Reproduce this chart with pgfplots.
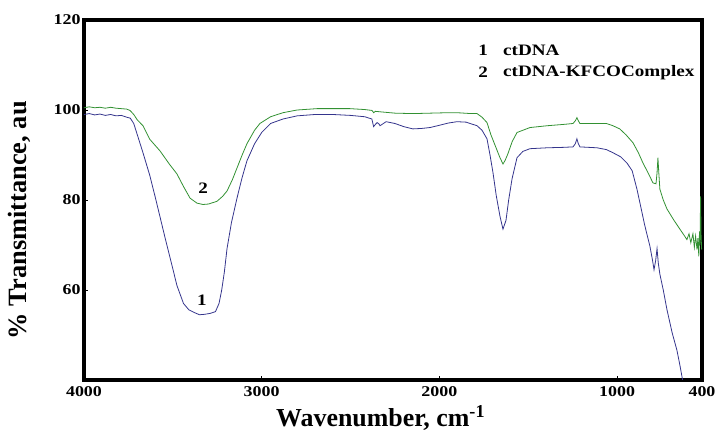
\documentclass[border=0pt]{standalone}
\usepackage{fontspec}
\setmainfont[FakeStretch=1.2]{Liberation Serif}
\newfontfamily\plainserif{Liberation Serif}
\usepackage{pgfplots}
\pgfplotsset{compat=1.18}
\usetikzlibrary{calc}
\definecolor{cblue}{RGB}{52,52,140}
\definecolor{cgreen}{RGB}{50,145,50}
\begin{document}
\begin{tikzpicture}
\begin{axis}[name=ax, scale only axis, width=618bp, height=360bp,
  x dir=reverse, xmin=522, xmax=4000, ymin=40, ymax=120,
  xtick={4000,3000,2000,1000,522}, xticklabels={4000,3000,2000,1000,400},
  ytick={60,80,100,120},
  tick pos=left, tick align=inside,
  major tick length=4bp,
  major tick style={black, line width=0.6pt},
  axis line style={line width=4bp},
  /pgf/number format/assume math mode=true,
  ticklabel style={font=\bfseries\fontsize{15}{15}\selectfont},
  xticklabel style={yshift=-3bp},
  xlabel={\plainserif Wavenumber, cm\textsuperscript{-1}},
  ylabel={\plainserif\% Transmittance, au},
  xlabel style={font=\bfseries\fontsize{26}{26}\selectfont, at={(axis description cs:0.48,-0.106)}, anchor=center},
  ylabel style={font=\bfseries\fontsize{26.5}{26.5}\selectfont, at={(axis description cs:-0.104,0.444)}, anchor=center},
  clip=true,
]
\addplot[cblue, line width=0.8pt] coordinates {
(4000,99.0)(3970,99.2)(3940,98.9)(3910,99.1)(3880,98.8)(3850,99.0)(3820,98.7)(3790,98.8)(3760,98.4)(3740,98.2)
(3720,97.0)(3700,94.5)(3668,90.5)(3630,85.5)(3600,80.8)(3570,75.9)(3540,71.0)(3505,65.5)(3477,61.0)(3440,57.0)
(3410,55.6)(3380,55.0)(3350,54.5)(3320,54.6)(3290,54.8)(3260,55.2)(3240,57.0)(3225,60.0)(3210,64.0)(3195,69.2)
(3170,75.0)(3139,80.4)(3110,85.0)(3083,88.7)(3040,92.5)(3000,95.0)(2950,97.0)(2880,98.0)(2800,98.7)(2700,99.0)
(2600,99.0)(2500,98.8)(2420,98.5)(2380,98.0)(2370,96.3)(2360,96.8)(2350,97.2)(2340,96.9)(2334,96.5)(2300,97.4)
(2250,97.0)(2200,96.3)(2149,95.8)(2100,95.9)(2053,96.1)(2000,96.6)(1950,97.1)(1901,97.4)(1850,97.3)(1788,96.5)
(1760,95.5)(1732,93.6)(1715,90.0)(1698,86.0)(1680,81.0)(1659,76.4)(1642,73.5)(1625,75.5)(1610,80.0)(1591,84.7)
(1563,89.4)(1530,90.8)(1490,91.4)(1394,91.6)(1300,91.7)(1248,91.8)(1235,92.5)(1226,93.6)(1218,92.5)(1209,91.8)
(1113,91.6)(1060,91.2)(1023,90.5)(980,89.6)(944,88.2)(915,86.5)(888,82.4)(871,79.3)(845,74.5)(815,69.7)
(800,66.5)(792,64.5)(783,66.5)(775,69.2)(768,66.0)(759,63.5)(740,60.0)(719,55.6)(690,50.5)(663,46.6)
(645,43.0)(629,39.5)(620,38.0)
};
\addplot[cgreen, line width=0.8pt] coordinates {
(4000,100.5)(3970,100.7)(3940,100.5)(3910,100.6)(3880,100.4)(3850,100.6)(3820,100.4)(3790,100.3)(3760,100.2)(3741,99.9)
(3720,99.0)(3700,97.8)(3668,96.5)(3630,93.5)(3572,90.9)(3520,88.0)(3477,85.8)(3440,83.0)(3403,80.4)(3364,79.3)
(3330,79.0)(3300,79.1)(3252,79.7)(3220,80.8)(3195,82.0)(3165,84.5)(3139,87.1)(3110,90.0)(3083,92.5)(3040,95.5)
(3010,97.0)(2950,98.5)(2880,99.4)(2800,100.0)(2689,100.3)(2600,100.3)(2503,100.3)(2420,100.1)(2379,99.9)(2370,99.4)
(2360,99.7)(2334,99.6)(2250,99.3)(2149,99.2)(2050,99.3)(1950,99.4)(1901,99.4)(1820,99.2)(1788,99.2)(1760,98.4)
(1732,97.2)(1710,94.5)(1685,92.0)(1660,89.5)(1642,88.0)(1630,88.8)(1615,90.2)(1590,93.0)(1563,95.0)(1490,96.1)
(1394,96.5)(1300,96.8)(1248,97.0)(1235,97.6)(1226,98.3)(1218,97.6)(1209,97.0)(1150,97.0)(1060,97.0)(1023,96.5)
(985,95.8)(950,94.5)(910,92.7)(880,90.5)(854,88.2)(825,86.0)(798,83.8)(781,83.6)(775,86.0)(770,89.4)
(765,86.0)(759,82.4)(740,80.0)(719,78.0)(680,75.5)(646,73.5)(620,72.0)(607,71.2)(595,72.5)(585,70.5)
(573,72.5)(565,69.5)(558,72.0)(550,69.0)(545,71.5)(540,67.5)(536,73.0)(533,70.0)(530,80.8)(527,72.0)(524,69.0)
};
\node[font=\bfseries\fontsize{16}{16}\selectfont] at (axis cs:3336,57.8) {1};
\node[font=\bfseries\fontsize{16}{16}\selectfont] at (axis cs:3330,82.6) {2};
\node[font=\bfseries\fontsize{16}{16}\selectfont] at (axis cs:1754,113.3) {1};
\node[font=\bfseries\fontsize{16}{16}\selectfont, anchor=west, inner sep=0pt] at (axis cs:1642,113.3) {ctDNA};
\node[font=\bfseries\fontsize{16}{16}\selectfont] at (axis cs:1754,108.4) {2};
\node[font=\bfseries\fontsize{16}{16}\selectfont, anchor=west, inner sep=0pt] at (axis cs:1642,108.4) {ctDNA-KFCOComplex};
\end{axis}
\pgfresetboundingbox
\path ($(ax.south west)+(-84bp,-52bp)$) rectangle ($(ax.north east)+(14bp,20bp)$);
\end{tikzpicture}
\end{document}
